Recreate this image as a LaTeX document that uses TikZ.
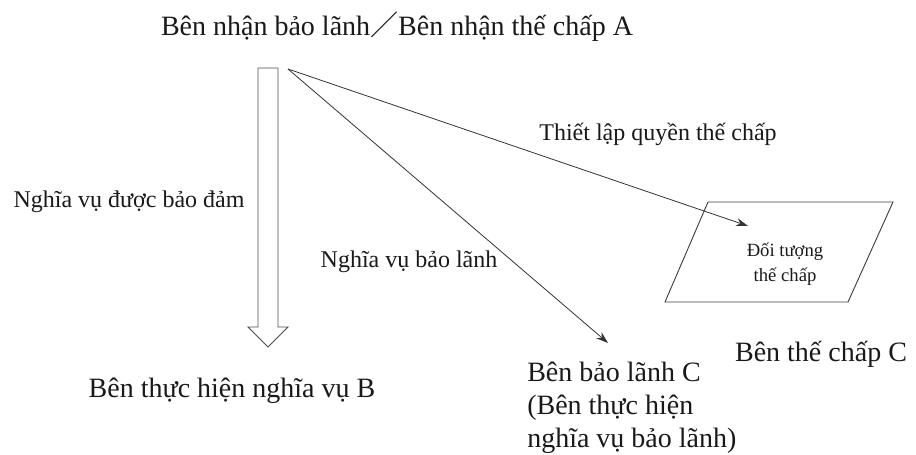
\documentclass[tikz,border=0pt]{standalone}
\usepackage{fontspec}
\setmainfont{Liberation Serif}
\newfontfamily\cjk{Noto Sans CJK SC}
\usetikzlibrary{arrows.meta,positioning}
\tikzstyle{link} = [draw, black!80, line width=0.6pt, -{Stealth[length=9pt,width=6pt]}]

\begin{document}
\begin{tikzpicture}[
            x = 0.75pt, y = -0.75pt, % one unit per pixel, y downwards
            inner sep = 0pt,
            text = black!90,
            big/.style = {font=\fontsize{21}{24.6}\selectfont},
            mid/.style = {font=\fontsize{18}{21}\selectfont},
            small/.style = {font=\fontsize{14}{18.5}\selectfont}
        ]

        \useasboundingbox (0,0) rectangle (916,454);

        % parties
        \node[big, anchor=base] (A) at (397,35) {Bên nhận bảo lãnh{\cjk ／}Bên nhận thế chấp A};
        \node[big, anchor=base] (B) at (232,397) {Bên thực hiện nghĩa vụ B};
        \node[big, align=left, anchor=north west] (C) at (527,362) {Bên bảo lãnh C\\(Bên thực hiện\\nghĩa vụ bảo lãnh)};
        \node[big, anchor=base] (Cm) at (821,361) {Bên thế chấp C};

        % mortgaged object
        \node[small, align=center] (obj) at (785,264) {Đối tượng\\thế chấp};
        \draw[black!75, line width=0.7pt] (708,202) -- (893,202) -- (848,302) -- (665,302) -- cycle;

        % hollow arrow A -> B
        \coordinate (top) at (268,68);
        \draw[black!70, line width=0.7pt] ([xshift=-7.5pt]top) -- ([xshift=7.5pt]top)
            -- (278,327) -- (288,327) -- (268,347) -- (248,327) -- (258,327) -- cycle;

        \coordinate (src) at (288,69);
        \coordinate (toobj) at (748,226);
        \coordinate (toC) at (608,343);

        \draw[link] (src) -- (toobj);
        \draw[link] (src) -- (toC);

        % labels
        \node[mid, anchor=base] (l1) at (129,207) {Nghĩa vụ được bảo đảm};
        \node[mid, anchor=base] (l2) at (658,140) {Thiết lập quyền thế chấp};
        \node[mid, anchor=base] (l3) at (409,267) {Nghĩa vụ bảo lãnh};

    \end{tikzpicture}
\end{document}
